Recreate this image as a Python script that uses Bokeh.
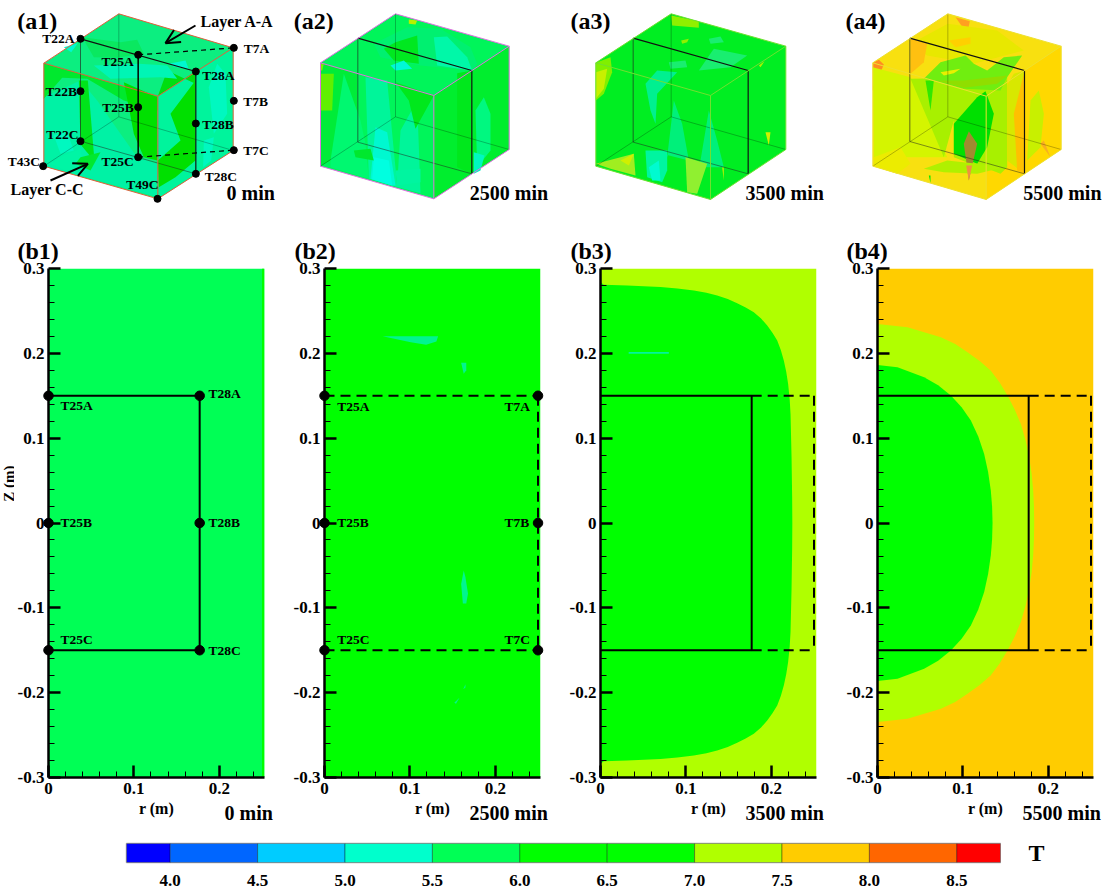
from bokeh.embed import file_html
from bokeh.resources import INLINE
from bokeh.plotting import figure
from bokeh.layouts import column, row
from bokeh.models import Label, FixedTicker, Arrow, OpenHead, Range1d
from math import pi

SERIF = "Liberation Serif"
LEVELS = [3.75, 4.0, 4.5, 5.0, 5.5, 6.0, 6.5, 7.0, 7.5, 8.0, 8.5, 8.75]
LEVEL_COLORS = ["#0000FF", "#0066FF", "#00CCFF", "#00FFCC", "#00FF55", "#00FF00", "#00FF00",
                "#B0FF00", "#FFCC00", "#FF6600", "#FF0000"]
BAR_TICKS = [4.0, 4.5, 5.0, 5.5, 6.0, 6.5, 7.0, 7.5, 8.0, 8.5]
Z_TICKS = [-0.3, -0.2, -0.1, 0, 0.1, 0.2, 0.3]
Z_LABELS = ["-0.3", "-0.2", "-0.1", "0", "0.1", "0.2", "0.3"]
Z_MINOR = [-0.28, -0.26, -0.24, -0.22, -0.18, -0.16, -0.14, -0.12, -0.08, -0.06, -0.04, -0.02,
           0.02, 0.04, 0.06, 0.08, 0.12, 0.14, 0.16, 0.18, 0.22, 0.24, 0.26, 0.28]
R_TICKS = [0, 0.1, 0.2]
R_LABELS = ["0", "0.1", "0.2"]
R_MINOR = [0.02, 0.04, 0.06, 0.08, 0.12, 0.14, 0.16, 0.18, 0.22, 0.24]
TIMES = ["0 min", "2500 min", "3500 min", "5500 min"]

B3_R = [0, 0.0039, 0.0312, 0.0703, 0.09, 0.1093, 0.124, 0.1366, 0.149, 0.16, 0.17, 0.1795, 0.188, 0.1952, 0.2015, 0.2069, 0.2112, 0.2147, 0.2175, 0.2197, 0.2215, 0.2225, 0.2237, 0.2244, 0.2246]
B3_Z = [0.2838, 0.2807, 0.2799, 0.2783, 0.2765, 0.274, 0.2714, 0.2681, 0.264, 0.259, 0.254, 0.2484, 0.241, 0.2327, 0.224, 0.215, 0.2035, 0.1914, 0.178, 0.1639, 0.146, 0.1285, 0.0774, 0.03, 0.0]
B4_OUT_R = [0, 0.0351, 0.0742, 0.091, 0.1054, 0.12, 0.1327, 0.143, 0.1522, 0.1605, 0.1678, 0.1735, 0.1776, 0.1805, 0.1823, 0.1832, 0.1835]
B4_OUT_Z = [0.2347, 0.2307, 0.2189, 0.211, 0.2013, 0.1908, 0.1796, 0.1655, 0.1502, 0.134, 0.1167, 0.097, 0.0774, 0.058, 0.0381, 0.019, 0.0]
B4_IN_R = [0, 0.0234, 0.0546, 0.071, 0.0859, 0.0985, 0.1093, 0.118, 0.1249, 0.1295, 0.1327, 0.1342, 0.1347]
B4_IN_Z = [0.1863, 0.1836, 0.1718, 0.1625, 0.1502, 0.1365, 0.1207, 0.102, 0.0814, 0.06, 0.0381, 0.019, 0.0]
B2_BLOTCHES = [
    ([0.068, 0.133, 0.131, 0.119, 0.101], [0.22, 0.22, 0.214, 0.21, 0.213]),
    ([0.16, 0.166, 0.166, 0.163], [0.189, 0.189, 0.18, 0.176]),
    ([0.163, 0.16, 0.162, 0.166, 0.168, 0.165], [-0.056, -0.072, -0.095, -0.095, -0.083, -0.064]),
    ([0.152, 0.158, 0.154], [-0.212, -0.206, -0.213]),
    ([0.1625, 0.165, 0.165], [-0.196, -0.19, -0.194]),
]
B3_BLOTCH = ([0.033, 0.08, 0.08, 0.033], [0.2015, 0.2015, 0.1995, 0.1995])

A1_POLYS = [
    ("#0CEE80", [130, 355, 698, 698, 472, 130], [188, 40, 142, 450, 595, 497]),
    ("#00F49C", [472, 698, 698, 472], [287, 142, 450, 595]),
    ("#00F2A5", [130, 240, 290, 360, 410, 470, 472, 300, 130], [290, 240, 300, 400, 470, 490, 590, 542, 497]),
    ("#00E92E", [130, 472, 472, 370, 260, 185, 130], [188, 287, 330, 300, 235, 232, 295]),
    ("#00E41A", [235, 262, 282, 240], [240, 240, 482, 432]),
    ("#00E000", [370, 470, 470, 430, 400, 385], [245, 290, 480, 470, 400, 320]),
    ("#00E000", [510, 585, 585, 525, 475, 472, 540], [340, 240, 480, 530, 560, 480, 420]),
    ("#00DE10", [500, 472, 585, 585], [210, 287, 213, 250]),
    ("#0AE860", [245, 360, 410, 430, 350, 280], [110, 125, 118, 160, 172, 170]),
    ("#00F5B5", [280, 415, 500, 530, 480, 330], [195, 190, 195, 235, 230, 235]),
    ("#00F8D0", [505, 555, 565, 520], [190, 180, 207, 198]),
    ("#00F8D0", [190, 232, 212], [140, 128, 155]),
    ("#00F5A5", [180, 240, 250, 195, 150], [470, 445, 510, 510, 490]),
    ("#00E830", [240, 300, 270, 225], [470, 455, 510, 490]),
    ("#00F8C0", [160, 200, 220, 180], [405, 395, 450, 460]),
    ("#00F8C0", [625, 650, 675, 680, 640], [260, 190, 220, 340, 400]),
    ("#00F8C0", [610, 640, 632, 608], [420, 410, 480, 500]),
]
A2_POLYS = [
    ("#00F55A", [120, 345, 686, 686, 460, 120], [187, 40, 137, 447, 595, 497]),
    ("#00EE2E", [460, 686, 686, 460], [285, 137, 447, 595]),
    ("#00F070", [280, 380, 480, 570, 590, 575, 420, 300], [130, 80, 85, 140, 190, 210, 195, 170]),
    ("#00E820", [345, 410, 415, 340, 310], [125, 105, 190, 180, 145]),
    ("#00F8A8", [460, 500, 560, 575, 470], [110, 108, 170, 210, 195]),
    ("#00F8D8", [330, 370, 395, 345], [195, 180, 205, 210]),
    ("#B8F000", [385, 410, 405, 385], [57, 60, 72, 70]),
    ("#00EC38", [120, 230, 230, 180, 150, 120], [187, 220, 425, 470, 480, 497]),
    ("#7CF000", [120, 130, 125, 120], [190, 190, 210, 210]),
    ("#60F000", [120, 160, 155, 120], [220, 220, 330, 330]),
    ("#00F870", [150, 190, 240, 255, 265, 150], [480, 220, 360, 430, 535, 500]),
    ("#00F59A", [255, 320, 350, 360, 410, 420, 345, 265], [230, 240, 556, 390, 300, 578, 558, 535]),
    ("#00E81C", [345, 460, 405, 385], [245, 285, 385, 300]),
    ("#00F8D0", [285, 320, 345, 335, 270], [380, 395, 555, 555, 535]),
    ("#00FFE0", [280, 325, 335, 275], [470, 480, 555, 536]),
    ("#00E81C", [530, 574, 574, 530], [218, 210, 520, 500]),
    ("#00F880", [585, 610, 630, 630, 590], [330, 290, 340, 450, 500]),
    ("#00F8C0", [580, 612, 600, 580], [455, 465, 510, 520]),
    ("#00E82E", [220, 270, 280, 225], [450, 445, 480, 470]),
    ("#00F5A0", [345, 420, 420, 350], [510, 505, 545, 555]),
]
A3_POLYS = [
    ("#00EE22", [106, 332, 676, 676, 450, 106], [187, 40, 137, 447, 597, 497]),
    ("#80F000", [106, 150, 155, 130, 106], [187, 170, 215, 280, 300]),
    ("#C8F000", [106, 140, 130, 106], [215, 205, 265, 295]),
    ("#90F000", [332, 415, 415, 335], [45, 62, 82, 75]),
    ("#90F000", [362, 385, 380, 365], [120, 115, 125, 130]),
    ("#19EE70", [415, 460, 560, 510], [210, 145, 165, 200]),
    ("#19EE70", [325, 375, 380, 330], [185, 180, 200, 205]),
    ("#19EE70", [445, 480, 490, 450], [115, 108, 125, 130]),
    ("#00F090", [255, 290, 350, 290, 285, 270], [250, 210, 215, 280, 370, 330]),
    ("#00F07A", [320, 340, 365, 385, 305], [470, 300, 370, 480, 460]),
    ("#00F07A", [420, 445, 470, 490, 410], [480, 330, 420, 500, 500]),
    ("#00F5A0", [255, 320, 320, 305, 260], [450, 450, 510, 545, 530]),
    ("#00FBD0", [265, 295, 300, 275], [500, 480, 540, 540]),
    ("#90F030", [375, 440, 410, 380], [470, 490, 580, 575]),
    ("#A0EE20", [106, 220, 225, 150], [490, 460, 525, 505]),
    ("#D0F000", [180, 220, 205], [480, 460, 495]),
    ("#D0F000", [615, 630, 625], [395, 395, 435]),
    ("#B0F000", [595, 612, 600], [195, 182, 200]),
    ("#C0F000", [485, 490, 490], [500, 500, 540]),
]
A4_POLYS = [
    ("#F8E010", [127, 352, 692, 692, 467, 127], [187, 40, 137, 447, 597, 497]),
    ("#FFD800", [467, 692, 692, 467], [287, 137, 447, 597]),
    ("#FF8C22", [127, 145, 160, 127], [187, 178, 192, 270]),
    ("#FFA020", [375, 418, 410], [50, 62, 100]),
    ("#E8E800", [240, 352, 500, 580, 430, 290], [130, 70, 90, 150, 190, 165]),
    ("#FFD000", [355, 420, 420, 375], [120, 110, 130, 140]),
    ("#FFC010", [240, 290, 280, 240], [115, 130, 185, 220]),
    ("#D4F500", [127, 240, 290, 350, 300, 130], [200, 230, 330, 470, 470, 470]),
    ("#ECEC00", [130, 210, 240, 200, 130], [470, 440, 490, 520, 497]),
    ("#A8F000", [240, 530, 530, 510, 460, 420, 370, 370, 340], [235, 230, 500, 520, 500, 490, 470, 360, 470]),
    ("#70EE10", [280, 330, 405, 430, 470, 520, 575, 530, 510, 400, 310], [235, 185, 165, 190, 210, 170, 165, 230, 270, 265, 240]),
    ("#E8F000", [330, 390, 370, 340], [215, 205, 218, 225]),
    ("#30E800", [300, 285, 310], [330, 240, 240]),
    ("#90DE00", [320, 400, 530, 500, 400], [240, 240, 225, 250, 262]),
    ("#00E000", [370, 440, 465, 490, 470, 440, 370], [370, 290, 272, 340, 440, 490, 460]),
    ("#A08A30", [400, 415, 440, 415], [430, 392, 430, 540]),
    ("#B0F000", [280, 350, 440, 520, 440, 340], [505, 480, 490, 500, 520, 515]),
    ("#F09040", [407, 425, 415], [495, 495, 540]),
    ("#D8E800", [530, 550, 582, 582, 530], [255, 220, 210, 520, 480]),
    ("#FFC000", [550, 580, 582, 560], [340, 220, 520, 510]),
    ("#C8F000", [600, 625, 640, 630, 590], [300, 270, 340, 440, 480]),
    ("#F8B020", [630, 640, 660], [430, 420, 470]),
    ("#00E800", [295, 300, 300], [525, 525, 548]),
]
A_ORIGIN = [0, 280, 560, 830]
A_EDGE = ["#E0603C", "#E070E0", "#70E030", "#EEE030"]
A_CORNERS = [
    dict(tl=(130, 188), tb=(355, 40), tr=(698, 142), f=(472, 287), bl=(130, 497), bb=(355, 349), br=(698, 450), bf=(472, 595)),
    dict(tl=(120, 187), tb=(345, 40), tr=(686, 137), f=(460, 285), bl=(120, 497), bb=(345, 349), br=(686, 447), bf=(460, 595)),
    dict(tl=(106, 187), tb=(332, 40), tr=(676, 137), f=(450, 285), bl=(106, 497), bb=(332, 349), br=(676, 447), bf=(450, 597)),
    dict(tl=(127, 187), tb=(352, 40), tr=(692, 137), f=(467, 287), bl=(127, 497), bb=(352, 349), br=(692, 447), bf=(467, 597)),
]
A_PLANE = [
    [(240, 115), (586, 213), (586, 520), (240, 422)],
    [(232, 113), (574, 210), (574, 520), (232, 425)],
    [(218, 113), (563, 210), (563, 520), (218, 425)],
    [(238, 113), (582, 210), (582, 520), (238, 423)],
]
A_TAG_X = [50, 40, 30, 45]
A_TIME_X = [678, 568, 555, 578]
A1_DOTS_X = [240, 413, 586, 700, 240, 413, 586, 700, 240, 413, 586, 700, 128, 471]
A1_DOTS_Y = [115, 163, 213, 142, 272, 320, 369, 301, 422, 470, 520, 449, 497, 595]
A1_NAMES = ["T22A", "T25A", "T7A", "T28A", "T22B", "T25B", "T7B", "T28B", "T22C", "T25C", "T7C", "T43C", "T28C", "T49C"]
A1_NAME_X = [125, 303, 730, 605, 135, 305, 728, 605, 137, 303, 728, 22, 613, 377]
A1_NAME_Y = [115, 183, 145, 225, 272, 320, 302, 373, 402, 484, 450, 482, 527, 552]

A_FIG_LEFT = [0, 284, 560, 837]
A_FIG_W = [284, 276, 277, 266]
B_FIG_LEFT = [14, 284, 560, 837]
B_FIG_W = [270, 276, 277, 266]
FRAME_LEFT = [48, 324, 600, 877]
B_TAG_X = [17, 294, 570, 846]
B_TIME_X = [224, 469, 745, 1022]
TOP_H = 225
MID_H = 575
STRIP_H = 25
FRAME_W = 216
FRAME_H = 509
R_MAX = 0.2529
PX_R = FRAME_W / R_MAX
PX_Z = FRAME_H / 0.6


def txt(p, x, y, s, size, align="left", baseline="middle", angle=0):
    p.add_layout(Label(x=x, y=y, text=s, text_font=SERIF, text_font_style="bold", text_font_size=f"{size}px",
                       text_align=align, text_baseline=baseline, text_color="black", angle=angle))


def cube_panel(i, polys):
    o = A_ORIGIN[i]
    L = A_FIG_LEFT[i]
    p = figure(width=A_FIG_W[i], height=TOP_H, output_backend="svg", toolbar_location=None,
               x_range=Range1d((L - o) * 3, (L + A_FIG_W[i] - o) * 3), y_range=Range1d(TOP_H * 3, 0),
               min_border=0, outline_line_color=None)
    p.axis.visible = False
    p.grid.visible = False
    for c, xs, ys in polys:
        p.patch(xs, ys, fill_color=c, line_color=None)
    k = A_CORNERS[i]
    e = A_EDGE[i]
    for a, b in [("bb", "tb"), ("bb", "bl"), ("bb", "br")]:
        p.line([k[a][0], k[b][0]], [k[a][1], k[b][1]], line_color="#000000", line_alpha=0.25, line_width=1)
    plane = A_PLANE[i]
    p.line([plane[3][0], plane[0][0]], [plane[3][1], plane[0][1]], line_color="#222222", line_alpha=0.65, line_width=1)
    p.line([plane[2][0], plane[3][0]], [plane[2][1], plane[3][1]], line_color="#222222", line_alpha=0.5, line_width=1)
    p.line([plane[0][0], plane[1][0], plane[2][0]], [plane[0][1], plane[1][1], plane[2][1]], line_color="#111111", line_width=1.2)
    outline = ["tl", "tb", "tr", "br", "bf", "bl", "tl", "f", "tr"]
    p.line([k[n][0] for n in outline], [k[n][1] for n in outline], line_color=e, line_width=1)
    p.line([k["f"][0], k["bf"][0]], [k["f"][1], k["bf"][1]], line_color=e, line_width=1)
    txt(p, A_TAG_X[i], 62, f"(a{i+1})", 24)
    txt(p, A_TIME_X[i], 576, TIMES[i], 20)
    return p


def axis_style(ax, ticks, minor, labels, major_len):
    ax.ticker = FixedTicker(ticks=ticks, minor_ticks=minor)
    ax.major_label_overrides = dict(zip(ticks, labels))
    ax.axis_line_color = "black"
    ax.axis_line_width = 2.5
    ax.major_tick_in = major_len
    ax.major_tick_out = 0
    ax.major_tick_line_width = 2.5
    ax.minor_tick_in = 6
    ax.minor_tick_out = 0
    ax.minor_tick_line_width = 1
    ax.major_label_text_font = SERIF
    ax.major_label_text_font_style = "bold"
    ax.major_label_text_font_size = "17px"
    ax.major_label_text_color = "black"


def b_panel(i, base):
    left = FRAME_LEFT[i] - B_FIG_LEFT[i]
    p = figure(width=B_FIG_W[i], height=MID_H, output_backend="svg", toolbar_location=None,
               x_range=Range1d(0, R_MAX), y_range=Range1d(-0.3, 0.3),
               min_border_left=left, min_border_right=B_FIG_W[i] - left - FRAME_W, min_border_top=43, min_border_bottom=23,
               outline_line_color=None)
    p.grid.visible = False
    axis_style(p.yaxis[0], Z_TICKS, Z_MINOR, Z_LABELS, 12)
    axis_style(p.xaxis[0], R_TICKS, R_MINOR, R_LABELS, 12)
    p.yaxis[0].major_label_standoff = 4
    p.xaxis[0].major_label_standoff = 5
    p.title.text = f"(b{i+1})"
    p.title.align = "left"
    p.title.offset = B_TAG_X[i] - FRAME_LEFT[i]
    p.title.text_font = SERIF
    p.title.text_font_style = "bold"
    p.title.text_font_size = "24px"
    p.title.text_color = "black"
    p.title.standoff = 9
    p.quad(left=0, right=R_MAX, bottom=-0.3, top=0.3, fill_color=base, line_color=None)
    return p


def to_r(i, px):
    return (px - FRAME_LEFT[i]) / PX_R


def to_z(py):
    return (522.5 - py) / PX_Z


def closed(r, z):
    return r + r[-2::-1], z + [-v for v in z[-2::-1]]


def rect_lines(p, rmax_solid, dashed):
    if rmax_solid:
        p.line([0, rmax_solid, rmax_solid, 0], [0.15, 0.15, -0.15, -0.15], line_color="black", line_width=2)
    if dashed:
        start = rmax_solid or 0
        p.line([start, 0.25], [0.15, 0.15], line_color="black", line_width=2, line_dash="10 6")
        p.line([0.25, 0.25], [0.15, -0.15], line_color="black", line_width=2, line_dash="10 6")
        p.line([start, 0.25], [-0.15, -0.15], line_color="black", line_width=2, line_dash="10 6")


def dots(p, r, z):
    p.scatter(r, z, size=9.5, fill_color="black", line_color="black", level="overlay")


def tags(p, i, items):
    for s, px, py in items:
        txt(p, to_r(i, px), to_z(py), s, 13.5)


a = [cube_panel(0, A1_POLYS), cube_panel(1, A2_POLYS), cube_panel(2, A3_POLYS), cube_panel(3, A4_POLYS)]
a1 = a[0]
a1.line([413, 700], [163, 142], line_color="black", line_width=1.2, line_dash="5 4")
a1.line([413, 700], [470, 449], line_color="black", line_width=1.2, line_dash="5 4")
a1.line([413, 413], [163, 470], line_color="black", line_width=1.5)
a1.scatter(A1_DOTS_X, A1_DOTS_Y, size=7, fill_color="black", line_color="black")
for s, x, y in zip(A1_NAMES, A1_NAME_X, A1_NAME_Y):
    txt(a1, x, y, s, 13.5)
txt(a1, 600, 62, "Layer A-A", 16)
txt(a1, 30, 567, "Layer C-C", 16)
a1.add_layout(Arrow(end=OpenHead(size=14, line_width=2), x_start=585, y_start=75, x_end=495, y_end=128, line_width=2))
a1.add_layout(Arrow(end=OpenHead(size=14, line_width=2), x_start=150, y_start=540, x_end=262, y_end=490, line_width=2))

z_fig = figure(width=14, height=MID_H, output_backend="svg", toolbar_location=None,
               x_range=Range1d(0, 14), y_range=Range1d(800, 225), min_border=0, outline_line_color=None)
z_fig.axis.visible = False
z_fig.grid.visible = False
txt(z_fig, 8, 468, "Z (m)", 15, align="center", angle=pi / 2)

b1 = b_panel(0, "#00FF55")
b1.quad(left=0.25, right=R_MAX, bottom=-0.3, top=0.3, fill_color="#00FF00", line_color=None)
rect_lines(b1, 0.177, False)
dots(b1, [0, 0.177, 0, 0.177, 0, 0.177], [0.15, 0.15, 0, 0, -0.15, -0.15])
tags(b1, 0, [("T25A", 60, 405), ("T28A", 208, 393), ("T25B", 60, 522), ("T28B", 208, 522), ("T25C", 60, 639), ("T28C", 208, 650)])

b2 = b_panel(1, "#00FF00")
for bx, bz in B2_BLOTCHES:
    b2.patch(bx, bz, fill_color="#00F590", line_color=None)
rect_lines(b2, 0, True)
dots(b2, [0, 0.25, 0, 0.25, 0, 0.25], [0.15, 0.15, 0, 0, -0.15, -0.15])
tags(b2, 1, [("T25A", 336.7, 405.7), ("T7A", 504, 405.7), ("T25B", 336.7, 522), ("T7B", 504, 522), ("T25C", 336.7, 639), ("T7C", 504, 639)])

b3 = b_panel(2, "#B0FF00")
rr, zz = closed(B3_R, B3_Z)
b3.patch(rr, zz, fill_color="#00FF00", line_color=None)
b3.patch(*B3_BLOTCH, fill_color="#00F5A0", line_color=None)
rect_lines(b3, 0.177, True)

b4 = b_panel(3, "#FFCC00")
rr, zz = closed(B4_OUT_R, B4_OUT_Z)
b4.patch(rr, zz, fill_color="#B0FF00", line_color=None)
rr, zz = closed(B4_IN_R, B4_IN_Z)
b4.patch(rr, zz, fill_color="#00FF00", line_color=None)
rect_lines(b4, 0.177, True)

strip = figure(width=1103, height=STRIP_H, output_backend="svg", toolbar_location=None,
               x_range=Range1d(0, 1103), y_range=Range1d(825, 800), min_border=0, outline_line_color=None)
strip.axis.visible = False
strip.grid.visible = False
for i in range(4):
    txt(strip, FRAME_LEFT[i] + FRAME_W / 2, 808, "r (m)", 16, align="center")
    txt(strip, B_TIME_X[i], 812, TIMES[i], 20)

bar = figure(width=1001, height=63, output_backend="svg", toolbar_location=None,
             x_range=Range1d(3.75, 8.75), y_range=Range1d(0, 1),
             min_border_left=126, min_border_right=1, min_border_top=18, min_border_bottom=21,
             outline_line_color="#AAAAAA", outline_line_width=1.5)
bar.grid.visible = False
bar.yaxis.visible = False
bar.quad(left=LEVELS[:-1], right=LEVELS[1:], bottom=0, top=1, fill_color=LEVEL_COLORS,
         line_color="#000000", line_alpha=0.35, line_width=1)
ax = bar.xaxis[0]
ax.ticker = FixedTicker(ticks=BAR_TICKS)
ax.major_label_overrides = {t: f"{t:.1f}" for t in BAR_TICKS}
ax.axis_line_color = None
ax.major_tick_line_color = None
ax.minor_tick_line_color = None
ax.major_label_standoff = 6
ax.major_label_text_font = SERIF
ax.major_label_text_font_style = "bold"
ax.major_label_text_font_size = "17px"
ax.major_label_text_color = "black"
bar_side = figure(width=102, height=63, output_backend="svg", toolbar_location=None,
                  x_range=Range1d(1001, 1103), y_range=Range1d(888, 825), min_border=0, outline_line_color=None)
bar_side.axis.visible = False
bar_side.grid.visible = False
txt(bar_side, 1036, 856, "T", 24, align="center")

page = column(row(a, spacing=0), row([z_fig, b1, b2, b3, b4], spacing=0), strip, row([bar, bar_side], spacing=0), spacing=0)
open("out.html", "w").write(file_html(page, INLINE))
